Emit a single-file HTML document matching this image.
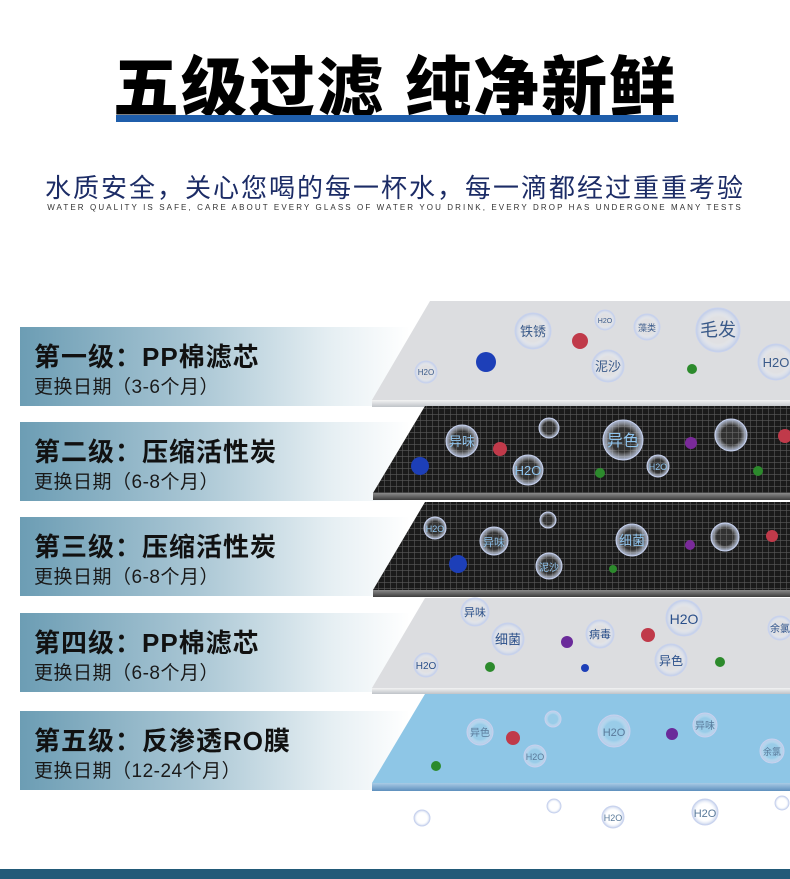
<!DOCTYPE html>
<html><head><meta charset="utf-8"><style>
body{margin:0;width:790px;height:879px;background:#fff;position:relative;overflow:hidden;font-family:"Liberation Sans","Noto Sans CJK SC",sans-serif}
.t{position:absolute;left:0;width:790px;text-align:center}
.box{position:absolute;left:20px;width:390px;height:79px;background:linear-gradient(90deg,#6c9db4 0%,#a9c6d4 45%,#e6eff3 80%,rgba(255,255,255,0) 100%)}
.box b{position:absolute;left:14px;top:10px;font-size:26px;font-weight:bold;color:#111;white-space:nowrap;letter-spacing:1px}
.box span{position:absolute;left:14px;top:45px;font-size:19px;color:#1a1a1a;white-space:nowrap;letter-spacing:0.5px}
svg{position:absolute;left:0;top:0}
</style></head><body>
<div class="t" style="top:48px;font-size:66px;font-weight:900;color:#000;letter-spacing:2px;line-height:80px">五级过滤 纯净新鲜</div>
<div style="position:absolute;left:116px;top:115px;width:562px;height:7px;background:#1f5eab"></div>
<div class="t" style="top:168px;font-size:26px;color:#1c2c66;letter-spacing:2px">水质安全，关心您喝的每一杯水，每一滴都经过重重考验</div>
<div class="t" style="top:203px;font-size:8px;color:#333;letter-spacing:2.1px">WATER QUALITY IS SAFE, CARE ABOUT EVERY GLASS OF WATER YOU DRINK, EVERY DROP HAS UNDERGONE MANY TESTS</div>

<div class="box" style="top:327px"><b>第一级：PP棉滤芯</b><span>更换日期（3-6个月）</span></div>
<div class="box" style="top:422px"><b>第二级：压缩活性炭</b><span>更换日期（6-8个月）</span></div>
<div class="box" style="top:517px"><b>第三级：压缩活性炭</b><span>更换日期（6-8个月）</span></div>
<div class="box" style="top:613px"><b>第四级：PP棉滤芯</b><span>更换日期（6-8个月）</span></div>
<div class="box" style="top:711px"><b>第五级：反渗透RO膜</b><span>更换日期（12-24个月）</span></div>

<svg width="790" height="879">
<defs>
<pattern id="mesh" width="6" height="6" patternUnits="userSpaceOnUse"><rect width="6" height="6" fill="#1a1a1a"/><path d="M0 0H6M0 0V6" stroke="#5a5a5a" stroke-width="1.2"/></pattern>
<radialGradient id="bub"><stop offset="60%" stop-color="#fff" stop-opacity=".1"/><stop offset="100%" stop-color="#b9c8e8" stop-opacity=".9"/></radialGradient>
<linearGradient id="edgeL" x1="0" y1="0" x2="0" y2="1"><stop offset="0" stop-color="#f3f3f3"/><stop offset="1" stop-color="#bfc3c8"/></linearGradient>
<linearGradient id="edgeD" x1="0" y1="0" x2="0" y2="1"><stop offset="0" stop-color="#8a8a8a"/><stop offset="1" stop-color="#3d3d3d"/></linearGradient>
<linearGradient id="edgeB" x1="0" y1="0" x2="0" y2="1"><stop offset="0" stop-color="#a9cbe6"/><stop offset="1" stop-color="#5e8fbd"/></linearGradient>
</defs>
<polygon points="430,301 790,301 790,400 372,400" fill="#dcdde0"/>
<rect x="372" y="400" width="418" height="7" fill="url(#edgeL)"/>
<polygon points="425,406 790,406 790,493 373,493" fill="url(#mesh)"/>
<rect x="373" y="493" width="417" height="7" fill="url(#edgeD)"/>
<polygon points="425,502 790,502 790,590 373,590" fill="url(#mesh)"/>
<rect x="373" y="590" width="417" height="7" fill="url(#edgeD)"/>
<polygon points="425,598 790,598 790,688 372,688" fill="#dcdde0"/>
<rect x="372" y="688" width="418" height="6" fill="url(#edgeL)"/>
<polygon points="425,694 790,694 790,783 372,783" fill="#8ec6e6"/>
<rect x="372" y="783" width="418" height="8" fill="url(#edgeB)"/>
<rect x="0" y="869" width="790" height="10" fill="#225a78"/>
<g font-family="Liberation Sans,Noto Sans CJK SC,sans-serif" text-anchor="middle" fill="#3a5a8a">
<g fill="url(#bub)" stroke="#c8d2ee" stroke-width="1">
<circle cx="533" cy="331" r="18"/><circle cx="605" cy="320" r="10"/><circle cx="647" cy="327" r="13"/><circle cx="718" cy="330" r="22"/><circle cx="608" cy="366" r="16"/><circle cx="426" cy="372" r="11"/><circle cx="776" cy="362" r="18"/>
<circle cx="462" cy="441" r="16"/><circle cx="549" cy="428" r="10"/><circle cx="623" cy="440" r="20"/><circle cx="528" cy="470" r="15"/><circle cx="658" cy="466" r="11"/><circle cx="731" cy="435" r="16"/>
<circle cx="435" cy="528" r="11"/><circle cx="494" cy="541" r="14"/><circle cx="548" cy="520" r="8"/><circle cx="632" cy="540" r="16"/><circle cx="549" cy="566" r="13"/><circle cx="725" cy="537" r="14"/>
<circle cx="475" cy="612" r="14"/><circle cx="508" cy="639" r="16"/><circle cx="600" cy="634" r="14"/><circle cx="684" cy="618" r="18"/><circle cx="671" cy="660" r="16"/><circle cx="426" cy="665" r="12"/><circle cx="780" cy="628" r="12"/>
<circle cx="480" cy="732" r="13"/><circle cx="553" cy="719" r="8"/><circle cx="614" cy="731" r="16"/><circle cx="705" cy="725" r="12"/><circle cx="535" cy="756" r="11"/><circle cx="772" cy="751" r="12"/>
<circle cx="422" cy="818" r="8"/><circle cx="554" cy="806" r="7"/><circle cx="613" cy="817" r="11"/><circle cx="705" cy="812" r="13"/><circle cx="782" cy="803" r="7"/>
</g>
<g font-size="13"><text x="533" y="336">铁锈</text><text x="718" y="336" font-size="18">毛发</text><text x="608" y="371">泥沙</text><text x="776" y="367">H2O</text><text x="647" y="331" font-size="9">藻类</text><text x="605" y="323" font-size="7">H2O</text><text x="426" y="375" font-size="8">H2O</text></g>
<g font-size="13" fill="#8fc4ee"><text x="462" y="446">异味</text><text x="623" y="446" font-size="16">异色</text><text x="528" y="475">H2O</text><text x="658" y="470" font-size="9">H2O</text><text x="435" y="532" font-size="9">H2O</text><text x="494" y="546" font-size="11">异味</text><text x="632" y="545">细菌</text><text x="549" y="571" font-size="10">泥沙</text></g>
<g font-size="12" fill="#2a4f8a"><text x="475" y="616" font-size="11">异味</text><text x="508" y="644" font-size="13">细菌</text><text x="600" y="638" font-size="11">病毒</text><text x="684" y="624" font-size="14">H2O</text><text x="671" y="665">异色</text><text x="426" y="669" font-size="10">H2O</text><text x="780" y="632" font-size="10">余氯</text></g>
<g font-size="11" fill="#5a7a9a"><text x="480" y="736" font-size="10">异色</text><text x="614" y="736">H2O</text><text x="705" y="729" font-size="10">异味</text><text x="535" y="760" font-size="9">H2O</text><text x="772" y="755" font-size="9">余氯</text><text x="705" y="817">H2O</text><text x="613" y="821" font-size="9">H2O</text></g>
</g>
<g>
<circle cx="486" cy="362" r="10" fill="#1d3fb8"/><circle cx="580" cy="341" r="8" fill="#c03a4a"/><circle cx="692" cy="369" r="5" fill="#2c8a2c"/>
<circle cx="420" cy="466" r="9" fill="#1d3fb8"/><circle cx="500" cy="449" r="7" fill="#c03a4a"/><circle cx="600" cy="473" r="5" fill="#2c8a2c"/><circle cx="691" cy="443" r="6" fill="#7a2a9a"/><circle cx="758" cy="471" r="5" fill="#2c8a2c"/><circle cx="785" cy="436" r="7" fill="#c03a4a"/>
<circle cx="458" cy="564" r="9" fill="#1d3fb8"/><circle cx="613" cy="569" r="4" fill="#2c8a2c"/><circle cx="690" cy="545" r="5" fill="#7a2a9a"/><circle cx="772" cy="536" r="6" fill="#c03a4a"/>
<circle cx="567" cy="642" r="6" fill="#6a2a9a"/><circle cx="648" cy="635" r="7" fill="#c03a4a"/><circle cx="490" cy="667" r="5" fill="#2c8a2c"/><circle cx="585" cy="668" r="4" fill="#1d3fb8"/><circle cx="720" cy="662" r="5" fill="#2c8a2c"/>
<circle cx="513" cy="738" r="7" fill="#c03a4a"/><circle cx="672" cy="734" r="6" fill="#6a2a9a"/><circle cx="436" cy="766" r="5" fill="#2c8a2c"/>
</g>
</svg>
</body></html>
